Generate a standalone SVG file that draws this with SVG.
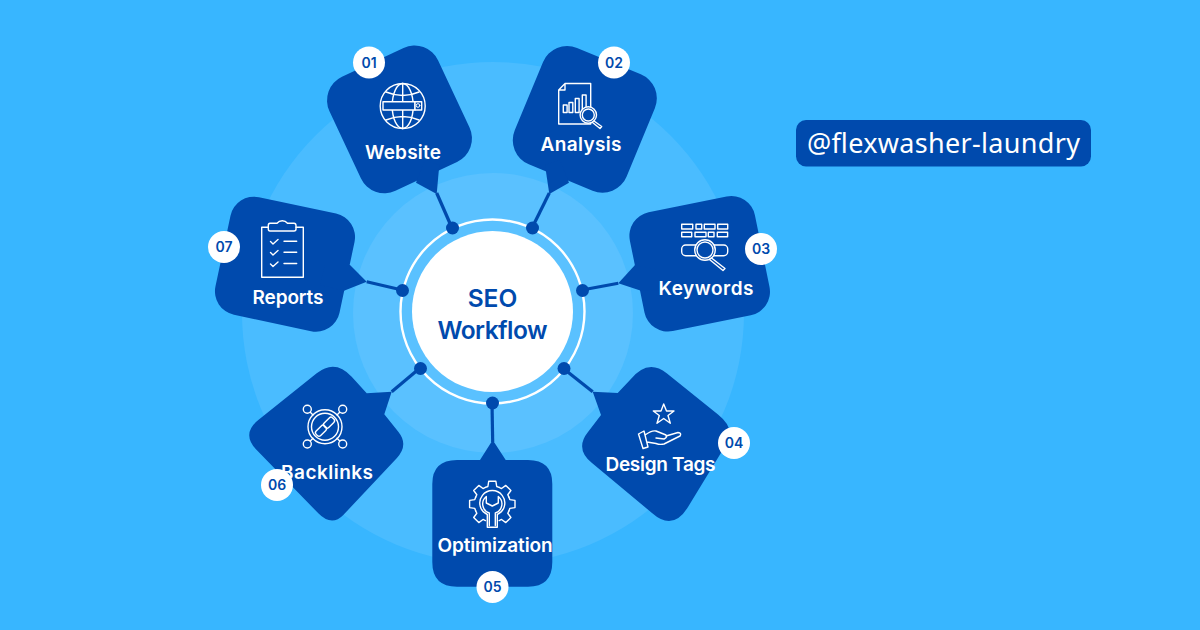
<svg xmlns="http://www.w3.org/2000/svg" width="1200" height="630" viewBox="0 0 1200 630">
<style>
.shape{fill:#004AAD}
.conn{stroke:#004AAD;stroke-width:3.2;fill:none}
.dot{fill:#004AAD}
.badge{fill:#fff}
.num{font:600 14px Inter,"Liberation Sans",sans-serif;fill:#004AAD;text-anchor:middle}
.lbl{font:600 19px Inter,"Liberation Sans",sans-serif;fill:#fff;text-anchor:middle}
.ic{fill:none;stroke:#fff;stroke-width:1.4;stroke-linejoin:round;stroke-linecap:round}
.ct{font:600 24.500px Inter,"Liberation Sans",sans-serif;fill:#004AAD;text-anchor:middle}
</style>
<rect width="1200" height="630" fill="#38B6FF"/>
<circle cx="493" cy="313" r="251" fill="#4ABCFF"/>
<circle cx="493" cy="313" r="140" fill="#5AC1FF"/>
<g id="connectors">
<path class="conn" d="M436.700 193L452 228"/>
<path class="conn" d="M549.300 193L532 228"/>
<path class="conn" d="M618.300 283.300L582 290"/>
<path class="conn" d="M592.700 391.700L564 369"/>
<path class="conn" d="M492.700 442L492 403"/>
<path class="conn" d="M391.700 391.700L420 368"/>
<path class="conn" d="M366.700 281.700L402 290"/>
</g>
<g id="center">
<circle cx="492.500" cy="311.500" r="92" fill="none" stroke="#fff" stroke-width="2.400"/>
<circle cx="492.500" cy="311.500" r="80.500" fill="#fff"/>
<text class="ct" x="492.500" y="307">SEO</text>
<text class="ct" x="492.500" y="339" textLength="110">Workflow</text>
<circle class="dot" cx="452.500" cy="228" r="6.500"/>
<circle class="dot" cx="532.500" cy="228" r="6.500"/>
<circle class="dot" cx="582.500" cy="290.500" r="6.500"/>
<circle class="dot" cx="564" cy="368.500" r="6.500"/>
<circle class="dot" cx="492.500" cy="403" r="6.500"/>
<circle class="dot" cx="420.500" cy="368.500" r="6.500"/>
<circle class="dot" cx="402.500" cy="290.500" r="6.500"/>
</g>
<g id="node-website">
<rect class="shape" x="339.500" y="56.400" width="120" height="126" rx="26" transform="rotate(-25.100 399.500 119.400)"/>
<path class="shape" d="M439.300 165L436.700 194L416 182.700L425 160Z"/>
<g class="ic"><circle cx="402.700" cy="106" r="22.500"/><ellipse cx="402.700" cy="106" rx="10.500" ry="22.500"/><path d="M402.700 83.500V128.500M386 92Q403 99 419 92M386 120Q403 113 419 120"/><rect x="383" y="101.700" width="32" height="8.300" fill="#004AAD"/><rect x="415" y="101.700" width="6.700" height="8.300" fill="#004AAD"/><circle cx="418" cy="105.500" r="1.800" stroke-width="1"/></g>
<text class="lbl" x="403" y="159" textLength="76">Website</text>
<circle class="badge" cx="369" cy="62.500" r="16"/><text class="num" x="369" y="67.500">01</text>
</g>
<g id="node-analysis">
<rect class="shape" x="524.300" y="56.300" width="121" height="126" rx="26" transform="rotate(22.500 584.800 119.300)"/>
<path class="shape" d="M545 165L549.300 194L569 182.700L560 160Z"/>
<g class="ic"><path d="M565 83.500H590.700V124H558.700V90ZM558.700 90H565V83.500"/><rect x="563.300" y="105" width="3.800" height="7.500"/><rect x="569" y="102.500" width="3.800" height="10"/><rect x="575.300" y="98.500" width="3.800" height="14"/><rect x="582.300" y="95" width="3.800" height="17.500"/><circle cx="588.300" cy="115" r="8.200" fill="#004AAD"/><circle cx="588.300" cy="115" r="6"/><path d="M594 121L601.700 126.500L600 128.500L592.500 122.500"/></g>
<text class="lbl" x="581" y="151" textLength="81">Analysis</text>
<circle class="badge" cx="614" cy="62.500" r="16"/><text class="num" x="614" y="67.500">02</text>
</g>
<g id="node-keywords">
<rect class="shape" x="635.900" y="203.200" width="127.600" height="121.200" rx="24" transform="rotate(-11.500 699.700 263.800)"/>
<path class="shape" d="M641 290.700L618.300 283.300L635 265L660 270L660 290Z"/>
<g class="ic"><rect x="681.700" y="224.300" width="11" height="4.700"/><rect x="696" y="224.300" width="5.700" height="4.700"/><rect x="704.300" y="224.300" width="10.700" height="4.700"/><rect x="717.700" y="224.300" width="10" height="4.700"/><rect x="681.700" y="232.300" width="10" height="4.500"/><rect x="695" y="232.300" width="11" height="4.500"/><rect x="708.300" y="232.300" width="5.700" height="4.500"/><rect x="717.300" y="232.300" width="10.300" height="4.500"/><rect x="681.700" y="245" width="46" height="10.700" rx="4"/><circle cx="705" cy="250" r="10.300" fill="#004AAD"/><circle cx="705" cy="250" r="8"/><path d="M711.500 258L725 268.500L723 270.500L709.500 259.500"/></g>
<text class="lbl" x="706" y="295" textLength="95">Keywords</text>
<circle class="badge" cx="761" cy="249" r="16"/><text class="num" x="761" y="254">03</text>
</g>
<g id="node-design-tags">
<path class="shape" d="M630 380Q647.700 358 666.700 373.300L718 414.500Q735.700 428.600 727 443L688 507Q673 531.600 652 513L592 463Q574.500 448.800 588 432L601 415L592.700 391.700L617.700 393Z"/>
<g class="ic"><path d="M663.700 404L666.500 411H674L668 415.500L670.300 423.300L663.700 418.500L657 423.300L659.300 415.500L653.300 411H661Z"/><path d="M638.500 434L644 431L648 447L643 448.500ZM645 435Q652 430 656 431L666 435Q668 437 664 439L656 438M666 436L678 432.500Q682 433 680 436L664 444Q660 445 656 443.500L647 442"/></g>
<text class="lbl" x="660.500" y="471" textLength="110">Design Tags</text>
<circle class="badge" cx="734" cy="443" r="16"/><text class="num" x="734" y="448">04</text>
</g>
<g id="node-optimization">
<path class="shape" d="M457 460H480L492.700 440L505.700 460H528Q552.300 460 552.300 484V562Q552.300 586.700 528 586.700H457Q432.300 586.700 432.300 562V484Q432.300 460 457 460Z"/>
<g class="ic" transform="translate(492.300 504)"><path d="M-6.900 -16.600L-4.400 -17.500L-3.600 -22.700H3.600L4.400 -17.500L6.900 -16.600"/><path transform="rotate(45)" d="M-6.900 -16.600L-4.400 -17.500L-3.600 -22.700H3.600L4.400 -17.500L6.900 -16.600"/><path transform="rotate(90)" d="M-6.900 -16.600L-4.400 -17.500L-3.600 -22.700H3.600L4.400 -17.500L6.900 -16.600"/><path transform="rotate(135)" d="M-6.900 -16.600L-4.400 -17.500L-3.600 -22.700H3.600L4.400 -17.500L6.900 -16.600"/><path transform="rotate(-45)" d="M-6.900 -16.600L-4.400 -17.500L-3.600 -22.700H3.600L4.400 -17.500L6.900 -16.600"/><path transform="rotate(-90)" d="M-6.900 -16.600L-4.400 -17.500L-3.600 -22.700H3.600L4.400 -17.500L6.900 -16.600"/><path transform="rotate(-135)" d="M-6.900 -16.600L-4.400 -17.500L-3.600 -22.700H3.600L4.400 -17.500L6.900 -16.600"/><path d="M-5 23.300V10.500A12.500 12.500 0 1 1 5 10.500V23.300ZM-3 21.500V9A9.500 9.500 0 0 1 -6 -7.500V-1L0 2L6 -1V-7.500A9.500 9.500 0 0 1 3 9V21.500"/></g>
<text class="lbl" x="495" y="552" textLength="115">Optimization</text>
<circle class="badge" cx="492.500" cy="587" r="16"/><text class="num" x="492.500" y="592">05</text>
</g>
<g id="node-backlinks">
<path class="shape" d="M258.300 420L316.700 373.300Q335 358.600 351.700 376.700L366.700 393.300L391.700 391.700L384.300 414.300L398.300 431.700Q409 445 396.700 458.300L343.300 515Q331.700 527 318.300 513.300L256.700 450Q241 433.800 258.300 420Z"/>
<g class="ic"><circle cx="325" cy="426.700" r="17"/><circle cx="325" cy="426.700" r="13.500"/><circle cx="307.300" cy="409.300" r="4"/><circle cx="342.700" cy="409.300" r="4"/><circle cx="307.300" cy="444" r="4"/><circle cx="342.700" cy="444" r="4"/><path d="M310.300 412.300L313 415M339.700 412.300L337 415M310.300 441L313 438.300M339.700 441L337 438.300"/><rect x="-6" y="-3.200" width="12" height="6.400" rx="2.400" transform="translate(321 430.700) rotate(-45)"/><rect x="-6" y="-3.200" width="12" height="6.400" rx="2.400" transform="translate(329 422.700) rotate(-45)"/></g>
<text class="lbl" x="327" y="479" textLength="92">Backlinks</text>
<circle class="badge" cx="277" cy="485" r="16"/><text class="num" x="277" y="490">06</text>
</g>
<g id="node-reports">
<rect class="shape" x="221.600" y="204.100" width="126.800" height="120.200" rx="24" transform="rotate(12 285 264.200)"/>
<path class="shape" d="M350 265L366.700 281.700L344 290.700L320 285L325 265Z"/>
<g class="ic"><path d="M268.300 227.300H261.700V277.300H303.300V227.300H296"/><path d="M270 223.300H277Q279 220.700 282.300 220.700Q285.500 220.700 287.500 223.300H294Q296 223.300 296 225.500V229Q296 231 294 231H270Q268.300 231 268.300 229V225.500Q268.300 223.300 270 223.300Z"/><path d="M270.500 241.500L273 244L278 239.500M270.500 252.500L273 255L278 250.500M270.500 264L273 266.500L278 262M284 241.300H296.700M284 252.300H296.700M284 263.500H296.700"/></g>
<text class="lbl" x="288" y="304" textLength="71">Reports</text>
<circle class="badge" cx="224" cy="247" r="16"/><text class="num" x="224" y="252">07</text>
</g>
<g id="handle">
<rect x="796" y="120" width="295" height="46.500" rx="10" fill="#004AAD"/>
<text x="943.500" y="153" font-family="Noto Sans,sans-serif" font-size="27" fill="#fff" text-anchor="middle" textLength="273">@flexwasher-laundry</text>
</g>
</svg>
